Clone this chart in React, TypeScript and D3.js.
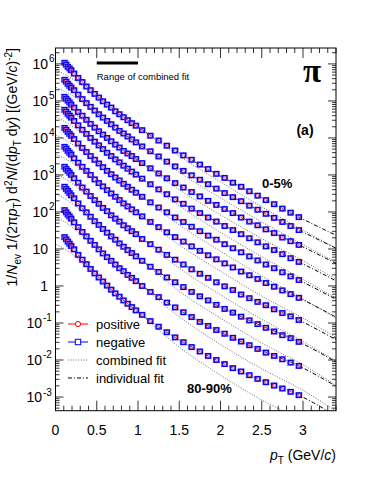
import React from 'react'
import * as d3 from 'd3'

const W = 374
const H = 485
const frame = { left: 55.5, right: 336, top: 48, bottom: 410.7 }

// pT bin centres in GeV/c
const ptBins = [0.11, 0.13, 0.15, 0.17, 0.19, 0.225, 0.275, 0.325, 0.375, 0.425, 0.475, 0.525, 0.575, 0.625, 0.675, 0.725, 0.775, 0.825, 0.875, 0.925, 0.975, 1.05, 1.15, 1.25, 1.35, 1.45, 1.55, 1.65, 1.75, 1.85, 1.95, 2.05, 2.15, 2.25, 2.35, 2.45, 2.55, 2.65, 2.75, 2.85, 2.95]

// log10 of the (scaled) yield per centrality class
const cent0005 = [6.03, 5.98, 5.92, 5.88, 5.83, 5.74, 5.62, 5.51, 5.39, 5.29, 5.19, 5.09, 4.99, 4.90, 4.82, 4.72, 4.64, 4.56, 4.48, 4.40, 4.33, 4.21, 4.06, 3.93, 3.79, 3.66, 3.53, 3.41, 3.28, 3.16, 3.03, 2.92, 2.79, 2.68, 2.56, 2.44, 2.32, 2.21, 2.09, 1.98, 1.86]
const cent0510 = [5.57, 5.52, 5.46, 5.41, 5.36, 5.29, 5.17, 5.05, 4.94, 4.84, 4.74, 4.64, 4.55, 4.46, 4.37, 4.28, 4.19, 4.12, 4.04, 3.96, 3.88, 3.77, 3.64, 3.50, 3.36, 3.23, 3.11, 2.99, 2.87, 2.75, 2.63, 2.51, 2.40, 2.29, 2.17, 2.06, 1.95, 1.84, 1.73, 1.62, 1.51]
const cent1020 = [5.11, 5.06, 5.01, 4.96, 4.90, 4.82, 4.70, 4.60, 4.49, 4.38, 4.28, 4.18, 4.09, 4.00, 3.91, 3.82, 3.74, 3.65, 3.58, 3.51, 3.43, 3.32, 3.18, 3.04, 2.91, 2.78, 2.66, 2.54, 2.42, 2.30, 2.19, 2.08, 1.97, 1.85, 1.74, 1.64, 1.53, 1.43, 1.31, 1.21, 1.11]
const cent2030 = [4.76, 4.71, 4.65, 4.60, 4.55, 4.46, 4.34, 4.22, 4.11, 4.00, 3.90, 3.80, 3.70, 3.60, 3.51, 3.42, 3.34, 3.25, 3.17, 3.09, 3.01, 2.90, 2.75, 2.61, 2.48, 2.34, 2.22, 2.09, 1.97, 1.85, 1.74, 1.62, 1.51, 1.40, 1.29, 1.18, 1.07, 0.97, 0.86, 0.75, 0.65]
const cent3040 = [4.27, 4.22, 4.16, 4.11, 4.06, 3.97, 3.85, 3.73, 3.62, 3.51, 3.41, 3.31, 3.21, 3.11, 3.02, 2.93, 2.85, 2.76, 2.68, 2.60, 2.52, 2.41, 2.26, 2.12, 1.99, 1.85, 1.73, 1.60, 1.48, 1.36, 1.25, 1.13, 1.02, 0.91, 0.80, 0.69, 0.58, 0.48, 0.37, 0.26, 0.16]
const cent4050 = [3.76, 3.71, 3.65, 3.60, 3.55, 3.45, 3.33, 3.22, 3.11, 3.00, 2.88, 2.78, 2.69, 2.59, 2.50, 2.41, 2.32, 2.23, 2.15, 2.07, 1.99, 1.88, 1.73, 1.59, 1.45, 1.32, 1.20, 1.07, 0.95, 0.83, 0.72, 0.61, 0.50, 0.39, 0.29, 0.19, 0.08, -0.02, -0.12, -0.22, -0.32]
const cent5060 = [3.22, 3.16, 3.11, 3.06, 3.00, 2.91, 2.79, 2.66, 2.55, 2.43, 2.32, 2.22, 2.11, 2.02, 1.91, 1.82, 1.74, 1.64, 1.56, 1.48, 1.40, 1.27, 1.13, 0.98, 0.84, 0.71, 0.58, 0.45, 0.33, 0.22, 0.10, -0.01, -0.11, -0.23, -0.33, -0.43, -0.52, -0.63, -0.73, -0.82, -0.92]
const cent6070 = [2.68, 2.62, 2.57, 2.51, 2.45, 2.37, 2.23, 2.10, 1.99, 1.87, 1.75, 1.65, 1.54, 1.44, 1.34, 1.25, 1.15, 1.06, 0.97, 0.89, 0.80, 0.68, 0.52, 0.38, 0.23, 0.10, -0.03, -0.16, -0.28, -0.39, -0.51, -0.62, -0.72, -0.83, -0.93, -1.03, -1.13, -1.23, -1.33, -1.41, -1.51]
const cent7080 = [2.05, 1.99, 1.93, 1.88, 1.82, 1.72, 1.59, 1.46, 1.34, 1.22, 1.11, 0.99, 0.88, 0.78, 0.68, 0.58, 0.48, 0.40, 0.30, 0.22, 0.13, 0.00, -0.16, -0.30, -0.45, -0.58, -0.71, -0.84, -0.97, -1.08, -1.19, -1.29, -1.40, -1.50, -1.60, -1.70, -1.80, -1.89, -1.98, -2.07, -2.16]
const cent8090 = [1.32, 1.26, 1.20, 1.14, 1.08, 0.99, 0.84, 0.71, 0.59, 0.46, 0.34, 0.23, 0.12, 0.01, -0.10, -0.20, -0.29, -0.39, -0.48, -0.57, -0.66, -0.78, -0.95, -1.10, -1.25, -1.39, -1.52, -1.65, -1.77, -1.89, -2.00, -2.11, -2.22, -2.31, -2.41, -2.51, -2.60, -2.69, -2.77, -2.86, -2.95]

// combined blast-wave fit (dotted), log10 values at these pT
const combPt = [0.01, 0.1, 0.2, 0.35, 0.5, 0.75, 1.0, 1.5, 2.0, 2.5, 3.0, 3.4]
const comb0005 = [5.83, 5.73, 5.60, 5.37, 5.11, 4.68, 4.29, 3.51, 2.81, 2.14, 1.51, 1.02]
const comb0510 = [5.36, 5.27, 5.15, 4.92, 4.67, 4.24, 3.85, 3.07, 2.38, 1.73, 1.12, 0.64]
const comb1020 = [4.90, 4.81, 4.68, 4.46, 4.21, 3.78, 3.39, 2.60, 1.92, 1.28, 0.68, 0.19]
const comb2030 = [4.56, 4.46, 4.32, 4.09, 3.83, 3.38, 2.97, 2.16, 1.45, 0.79, 0.18, -0.33]
const comb3040 = [4.07, 3.97, 3.83, 3.60, 3.34, 2.89, 2.48, 1.65, 0.94, 0.27, -0.35, -0.87]
const comb4050 = [3.55, 3.46, 3.33, 3.08, 2.81, 2.36, 1.96, 1.11, 0.40, -0.27, -0.87, -1.39]
const comb5060 = [3.02, 2.92, 2.77, 2.52, 2.25, 1.78, 1.35, 0.48, -0.24, -0.90, -1.50, -2.03]
const comb6070 = [2.48, 2.38, 2.23, 1.97, 1.68, 1.19, 0.76, -0.14, -0.87, -1.54, -2.13, -2.68]
const comb7080 = [1.85, 1.75, 1.59, 1.32, 1.03, 0.54, 0.09, -0.83, -1.58, -2.24, -2.82, -3.38]
const comb8090 = [1.12, 1.02, 0.86, 0.57, 0.27, -0.24, -0.71, -1.65, -2.41, -3.08, -3.66, -4.22]

// individual fits (dash-dot), log10 values at these pT
const indPt = [0.275, 0.475, 0.725, 0.975, 1.45, 1.95, 2.45, 2.95, 3.4]
const ind0005 = [5.62, 5.19, 4.72, 4.33, 3.66, 3.03, 2.44, 1.86, 1.37]
const ind0510 = [5.17, 4.74, 4.28, 3.88, 3.23, 2.63, 2.06, 1.51, 1.02]
const ind1020 = [4.70, 4.28, 3.82, 3.43, 2.78, 2.19, 1.64, 1.11, 0.61]
const ind2030 = [4.34, 3.90, 3.42, 3.01, 2.34, 1.74, 1.18, 0.65, 0.14]
const ind3040 = [3.85, 3.41, 2.93, 2.52, 1.85, 1.25, 0.69, 0.16, -0.36]
const ind4050 = [3.33, 2.88, 2.41, 1.99, 1.32, 0.72, 0.19, -0.32, -0.84]
const ind5060 = [2.79, 2.32, 1.82, 1.40, 0.71, 0.10, -0.43, -0.92, -1.45]
const ind6070 = [2.23, 1.75, 1.25, 0.80, 0.10, -0.51, -1.03, -1.51, -2.05]
const ind7080 = [1.59, 1.11, 0.58, 0.13, -0.58, -1.19, -1.70, -2.16, -2.71]
const ind8090 = [0.84, 0.34, -0.20, -0.66, -1.39, -2.00, -2.51, -2.95, -3.51]

const classes = [
  { data: cent0005, comb: comb0005, ind: ind0005 },
  { data: cent0510, comb: comb0510, ind: ind0510 },
  { data: cent1020, comb: comb1020, ind: ind1020 },
  { data: cent2030, comb: comb2030, ind: ind2030 },
  { data: cent3040, comb: comb3040, ind: ind3040 },
  { data: cent4050, comb: comb4050, ind: ind4050 },
  { data: cent5060, comb: comb5060, ind: ind5060 },
  { data: cent6070, comb: comb6070, ind: ind6070 },
  { data: cent7080, comb: comb7080, ind: ind7080 },
  { data: cent8090, comb: comb8090, ind: ind8090 },
]

const xTickLabels = ['0', '0.5', '1', '1.5', '2', '2.5', '3']
const yDecades = [-3, -2, -1, 0, 1, 2, 3, 4, 5, 6]

const font = "'Liberation Sans', Arial, Helvetica, sans-serif"

export default function App() {
  const x = d3.scaleLinear().domain([0, 3.4]).range([frame.left, frame.right])
  const y = d3.scaleLog().domain([10 ** -3.37, 10 ** 6.43]).range([frame.bottom, frame.top])

  const line = d3.line<[number, number]>()
    .x(d => x(d[0]))
    .y(d => y(10 ** d[1]))
    .curve(d3.curveMonotoneX)

  const xMinor = d3.range(0, 34.5, 1).map(i => i / 10)
  const yMinor: number[] = []
  yDecades.concat([-4]).forEach(e => {
    for (let m = 2; m <= 9; m++) {
      const v = m * 10 ** e
      if (v > 10 ** -3.37 && v < 10 ** 6.43) yMinor.push(v)
    }
  })

  const yLabel = (e: number) => {
    if (e === 0) return <text key={e} x={48} y={y(1) + 5} textAnchor="end" fontSize={14}>1</text>
    if (e === 1) return <text key={e} x={48} y={y(10) + 5} textAnchor="end" fontSize={14}>10</text>
    const endX = e > 0 ? 48 : 42
    return (
      <g key={e}>
        <text x={endX} y={y(10 ** e) + 5} textAnchor="end" fontSize={14}>10</text>
        <text x={endX + 1} y={y(10 ** e) - 1.5} fontSize={10}>{e > 0 ? e : '-' + -e}</text>
      </g>
    )
  }

  return (
    <svg width={W} height={H} style={{ position: 'absolute', left: 0, top: 0, background: '#fff' }} fontFamily={font}>
      <defs>
        <clipPath id="plotArea">
          <rect x={frame.left} y={frame.top} width={frame.right - frame.left} height={frame.bottom - frame.top} />
        </clipPath>
      </defs>

      <g clipPath="url(#plotArea)">
        {classes.map((c, i) => (
          <g key={'fit' + i} fill="none">
            <path d={line(combPt.map((p, k) => [p, c.comb[k]]) as [number, number][]) || ''}
              stroke="#444" strokeWidth={0.8} strokeDasharray="1 1.6" />
            <path d={line(indPt.map((p, k) => [p, c.ind[k]]) as [number, number][]) || ''}
              stroke="#000" strokeWidth={1} strokeDasharray="4 2 1 2" />
          </g>
        ))}
        {classes.map((c, i) => (
          <g key={'pts' + i}>
            {c.data.map((v, k) => {
              const px = x(ptBins[k])
              const py = y(10 ** v)
              return (
                <g key={k}>
                  <rect x={px - 3.8} y={py - 3.2} width={7.6} height={6.4} fill="#9a9aff" fillOpacity={0.5} />
                  <circle cx={px} cy={py} r={2.2} fill="none" stroke="#ff0000" strokeWidth={1} />
                  <rect x={px - 2.5} y={py - 2.3} width={5} height={4.6} fill="none" stroke="#0000ff" strokeWidth={1.2} />
                </g>
              )
            })}
          </g>
        ))}
      </g>

      {/* frame and ticks */}
      <rect x={frame.left} y={frame.top} width={frame.right - frame.left} height={frame.bottom - frame.top}
        fill="none" stroke="#000" strokeWidth={1} />
      <g stroke="#000" strokeWidth={0.8}>
        {xMinor.map(t => {
          const major = Math.abs(t * 2 - Math.round(t * 2)) < 1e-6
          const len = major ? 10 : 5
          return (
            <g key={'xt' + t}>
              <line x1={x(t)} x2={x(t)} y1={frame.bottom} y2={frame.bottom - len} />
              <line x1={x(t)} x2={x(t)} y1={frame.top} y2={frame.top + len} />
            </g>
          )
        })}
        {yDecades.map(e => (
          <g key={'yt' + e}>
            <line x1={frame.left} x2={frame.left + 8} y1={y(10 ** e)} y2={y(10 ** e)} />
            <line x1={frame.right} x2={frame.right - 8} y1={y(10 ** e)} y2={y(10 ** e)} />
          </g>
        ))}
        {yMinor.map(v => (
          <g key={'ym' + v}>
            <line x1={frame.left} x2={frame.left + 4} y1={y(v)} y2={y(v)} />
            <line x1={frame.right} x2={frame.right - 4} y1={y(v)} y2={y(v)} />
          </g>
        ))}
      </g>

      {/* tick labels */}
      {xTickLabels.map(l => (
        <text key={l} x={x(+l)} y={435} textAnchor="middle" fontSize={14}>{l}</text>
      ))}
      {yDecades.map(e => yLabel(e))}

      {/* axis titles */}
      <text x={336} y={460} textAnchor="end" fontSize={14}>
        <tspan fontStyle="italic">p</tspan>
        <tspan dy={3.5} fontSize={10}>T</tspan>
        <tspan dy={-3.5}>{' (GeV/'}</tspan>
        <tspan fontStyle="italic">c</tspan>
        <tspan>)</tspan>
      </text>
      <text transform="translate(17,48) rotate(-90)" textAnchor="end" fontSize={14}>
        <tspan>1/</tspan>
        <tspan fontStyle="italic">N</tspan>
        <tspan dy={3.5} fontSize={10}>ev</tspan>
        <tspan dy={-3.5}>{' 1/(2π'}</tspan>
        <tspan fontStyle="italic">p</tspan>
        <tspan dy={3.5} fontSize={10}>T</tspan>
        <tspan dy={-3.5}>{') d'}</tspan>
        <tspan dy={-5.5} fontSize={10}>2</tspan>
        <tspan dy={5.5} fontStyle="italic">N</tspan>
        <tspan>/(d</tspan>
        <tspan fontStyle="italic">p</tspan>
        <tspan dy={3.5} fontSize={10}>T</tspan>
        <tspan dy={-3.5}>{' d'}</tspan>
        <tspan fontStyle="italic">y</tspan>
        <tspan>{') [(GeV/'}</tspan>
        <tspan fontStyle="italic">c</tspan>
        <tspan>)</tspan>
        <tspan dy={-5.5} fontSize={10}>-2</tspan>
        <tspan dy={5.5}>]</tspan>
      </text>

      {/* annotations */}
      <line x1={x(0.5)} x2={x(1.0)} y1={63} y2={63} stroke="#000" strokeWidth={3} />
      <text x={x(0.5)} y={80} fontSize={9.5}>Range of combined fit</text>
      <text x={312} y={82} textAnchor="middle" fontSize={33} fontWeight="bold" fontFamily="'Liberation Serif', 'Times New Roman', serif">π</text>
      <text x={305} y={135} textAnchor="middle" fontSize={14} fontWeight="bold">(a)</text>
      <text x={262} y={188} fontSize={13} fontWeight="bold">0-5%</text>
      <text x={187} y={393} fontSize={13} fontWeight="bold">80-90%</text>

      {/* legend */}
      <g fontSize={13}>
        <line x1={68} x2={88} y1={324} y2={324} stroke="#ff0000" strokeWidth={1} />
        <circle cx={78} cy={324} r={2.6} fill="#fff" stroke="#ff0000" strokeWidth={1} />
        <text x={96} y={328.5}>positive</text>
        <line x1={68} x2={88} y1={342} y2={342} stroke="#0000ff" strokeWidth={1} />
        <rect x={75.3} y={339.3} width={5.4} height={5.4} fill="#fff" stroke="#0000ff" strokeWidth={1} />
        <text x={96} y={346.5}>negative</text>
        <line x1={68} x2={88} y1={360} y2={360} stroke="#444" strokeWidth={0.8} strokeDasharray="1 1.6" />
        <text x={96} y={364.5}>combined fit</text>
        <line x1={68} x2={88} y1={378} y2={378} stroke="#000" strokeWidth={1} strokeDasharray="4 2 1 2" />
        <text x={96} y={382.5}>individual fit</text>
      </g>
    </svg>
  )
}
